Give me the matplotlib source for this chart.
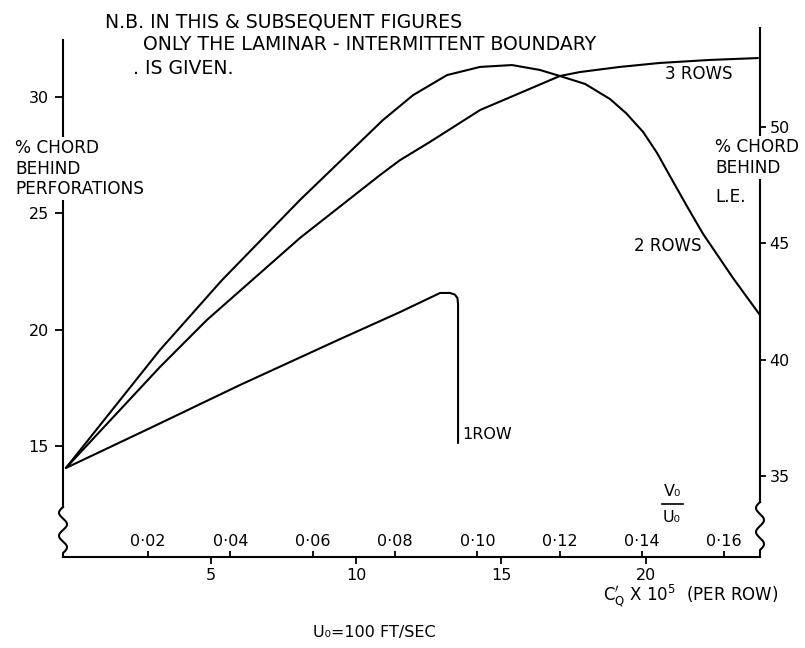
import numpy as np
import matplotlib
matplotlib.use("Agg")
import matplotlib.pyplot as plt
from matplotlib.lines import Line2D

# C'Q x 10^5 (per row) and % chord behind perforations, laminar-intermittent boundary
cq_1row = [0.00, 2.90, 6.00, 9.45, 11.52, 12.90, 13.24, 13.41, 13.50, 13.52, 13.52]
pc_1row = [14.06, 15.77, 17.62, 19.59, 20.75, 21.57, 21.57, 21.50, 21.35, 21.09, 15.13]

cq_2rows = [0.00, 3.24, 5.38, 8.07, 10.93, 11.97, 13.14, 14.28, 15.38, 16.34,
            17.03, 17.90, 18.76, 19.31, 19.90, 20.38, 20.90, 21.45, 21.97,
            23.00, 23.93]
pc_2rows = [14.06, 19.12, 22.12, 25.56, 28.99, 30.06, 30.92, 31.27, 31.35, 31.14,
            30.88, 30.54, 29.89, 29.29, 28.48, 27.58, 26.42, 25.21, 24.10,
            22.21, 20.62]

cq_3rows = [0.00, 3.24, 4.86, 8.07, 10.83, 11.52, 12.55, 14.28, 17.03, 17.72,
            19.10, 20.48, 22.21, 23.86]
pc_3rows = [14.06, 18.39, 20.41, 23.93, 26.63, 27.27, 28.05, 29.42, 30.88, 31.05,
            31.27, 31.44, 31.57, 31.65]

left_ticks = [15, 20, 25, 30]
right_ticks = [35, 40, 45, 50]
cq_ticks = [5, 10, 15, 20]
vu_ticks = [0.02, 0.04, 0.06, 0.08, 0.10, 0.12, 0.14, 0.16]
vu_labels = ["0·02", "0·04", "0·06", "0·08", "0·10", "0·12", "0·14", "0·16"]

LE_OFFSET = 21.3      # % chord behind L.E. = % chord behind perforations + offset
VU_PER_CQ = 0.00705   # V0/U0 per unit of C'Q x 10^5

W, H = 805, 648
fig = plt.figure(figsize=(W / 100, H / 100), dpi=100)
plt.rcParams['font.family'] = ['DejaVu Sans']

def fx(px):
    return px / W

def fy(py):
    return 1 - py / H

LW = 1.5
TICK_FS = 11.5
ax = fig.add_axes([fx(63), fy(557), (760 - 63) / W, (557 - 28) / H])
ax.set_xlim(-0.1, 23.93)
ax.set_ylim(10.24, 32.94)

for xs, ys in [(cq_1row, pc_1row), (cq_2rows, pc_2rows), (cq_3rows, pc_3rows)]:
    ax.plot(xs, ys, color='black', lw=LW, solid_joinstyle='round',
            solid_capstyle='round')

# spines
ax.spines['top'].set_visible(False)
ax.spines['right'].set_visible(False)
for s in ax.spines.values():
    s.set_linewidth(LW)
ax.spines['left'].set_bounds(12.38, 32.42)

ax.set_yticks(left_ticks)
ax.tick_params(axis='y', direction='out', length=6, width=1.3, pad=4,
               labelsize=TICK_FS)
ax.set_xticks(cq_ticks)
ax.tick_params(axis='x', direction='out', length=5, width=1.3, pad=3,
               labelsize=TICK_FS)

# right-hand scale: % chord behind leading edge
ax2 = ax.twinx()
ax2.set_ylim(10.24 + LE_OFFSET, 32.94 + LE_OFFSET)
for k in ['top', 'left', 'bottom']:
    ax2.spines[k].set_visible(False)
ax2.spines['right'].set_linewidth(LW)
ax2.spines['right'].set_bounds(12.6 + LE_OFFSET, 32.94 + LE_OFFSET)
ax2.set_yticks(right_ticks)
ax2.tick_params(axis='y', direction='out', length=4, width=1.3, pad=3,
                labelsize=TICK_FS)

# V0/U0 scale along the bottom axis, labelled above the line
sec = ax.secondary_xaxis(0.0, functions=(lambda c: c * VU_PER_CQ,
                                         lambda v: v / VU_PER_CQ))
sec.set_alignment('top')
sec.set_xticks(vu_ticks, labels=vu_labels)
sec.tick_params(axis='x', direction='out', length=4, width=1.3, pad=2,
                labelsize=TICK_FS)
sec.spines['top'].set_visible(False)
sec.spines['bottom'].set_visible(False)

# broken-axis wiggles near the bottom of both vertical scales
def wiggle(x0, y_top, y_bot, y_base, amp=4.0, periods=2.0):
    t = np.linspace(0, 1, 200)
    ys = y_top + (y_bot - y_top) * t
    xs = x0 - amp * np.sin(2 * np.pi * periods * t)
    xs = np.concatenate([xs, [x0]])
    ys = np.concatenate([ys, [y_base]])
    fig.add_artist(Line2D(fx(xs), fy(ys), color='black', lw=LW,
                          transform=fig.transFigure))

wiggle(63, 507, 553, 557)
wiggle(760, 502, 550, 557)

# labels
title_kw = dict(fontsize=13.6, va='center', ha='left')
fig.text(fx(105), fy(22), "N.B. IN THIS & SUBSEQUENT FIGURES", **title_kw)
fig.text(fx(143), fy(44), "ONLY THE LAMINAR - INTERMITTENT BOUNDARY", **title_kw)
fig.text(fx(133), fy(68), ". IS GIVEN.", **title_kw)

box = dict(facecolor='white', edgecolor='none', pad=1.5)
fig.text(fx(15), fy(139), "% CHORD\nBEHIND\nPERFORATIONS", fontsize=12.2,
         va='top', ha='left', linespacing=1.18, bbox=box)
fig.text(fx(715), fy(138), "% CHORD\nBEHIND", fontsize=12.2,
         va='top', ha='left', linespacing=1.18, bbox=box)
fig.text(fx(715), fy(197), "L.E.", fontsize=12.2, va='center', ha='left')

ax.text(20.65, 30.95, "3 ROWS", fontsize=12, ha='left', va='center')
ax.text(19.6, 23.6, "2 ROWS", fontsize=12, ha='left', va='center')
ax.text(13.65, 15.5, "1ROW", fontsize=11.5, ha='left', va='center')

fig.text(fx(672), fy(491), "V₀", fontsize=11.5, ha='center', va='center')
fig.add_artist(Line2D([fx(662), fx(683)], [fy(504), fy(504)], color='black',
                      lw=1.2, transform=fig.transFigure))
fig.text(fx(672), fy(517), "U₀", fontsize=11.5, ha='center', va='center')

fig.text(fx(603), fy(596), r"C$^{\prime}_{\mathrm{Q}}$ X 10$^{5}$  (PER ROW)",
         fontsize=12, ha='left', va='center')
fig.text(fx(313), fy(633), "U₀=100 FT/SEC", fontsize=11.5, ha='left',
         va='center')

fig.savefig("out.png", dpi=100)
